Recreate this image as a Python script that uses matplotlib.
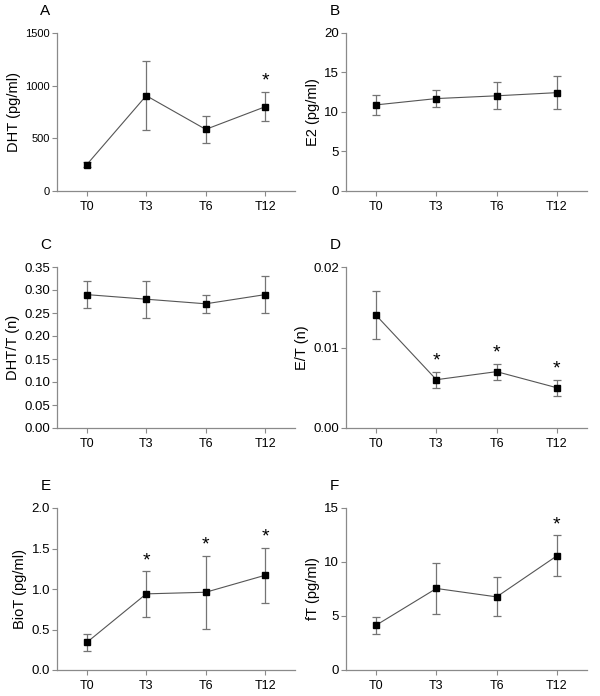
import matplotlib

matplotlib.use("Agg")
import matplotlib.pyplot as plt
from matplotlib.ticker import FormatStrFormatter

plt.rcParams["font.family"] = ["Liberation Sans", "DejaVu Sans"]

timepoints = ["T0", "T3", "T6", "T12"]

dht_mean = [250, 905, 585, 800]
dht_err = [25, 325, 125, 140]
dht_star = [False, False, False, True]

e2_mean = [10.9, 11.7, 12.05, 12.45]
e2_err = [1.25, 1.1, 1.7, 2.1]
e2_star = [False, False, False, False]

dht_t_mean = [0.29, 0.28, 0.27, 0.29]
dht_t_err = [0.03, 0.04, 0.02, 0.04]
dht_t_star = [False, False, False, False]

e_t_mean = [0.014, 0.006, 0.007, 0.005]
e_t_err = [0.003, 0.001, 0.001, 0.001]
e_t_star = [False, True, True, True]

biot_mean = [0.34, 0.94, 0.96, 1.17]
biot_err = [0.10, 0.28, 0.45, 0.34]
biot_star = [False, True, True, True]

ft_mean = [4.15, 7.55, 6.77, 10.57]
ft_err = [0.8, 2.33, 1.8, 1.89]
ft_star = [False, False, False, True]

# letter, y label, means, errors, significance, y ticks, tick format, tick font size
panels = [
    ("A", "DHT (pg/ml)", dht_mean, dht_err, dht_star, [0, 500, 1000, 1500], "%d", 8),
    ("B", "E2 (pg/ml)", e2_mean, e2_err, e2_star, [0, 5, 10, 15, 20], "%d", 9.5),
    ("C", "DHT/T (n)", dht_t_mean, dht_t_err, dht_t_star,
     [0, 0.05, 0.10, 0.15, 0.20, 0.25, 0.30, 0.35], "%.2f", 9.5),
    ("D", "E/T (n)", e_t_mean, e_t_err, e_t_star, [0, 0.01, 0.02], "%.2f", 9.5),
    ("E", "BioT (pg/ml)", biot_mean, biot_err, biot_star, [0, 0.5, 1.0, 1.5, 2.0], "%.1f", 9.5),
    ("F", "fT (pg/ml)", ft_mean, ft_err, ft_star, [0, 5, 10, 15], "%d", 9.5),
]

W, H = 600, 696
cols = [(57, 295), (346, 587)]          # axes left/right in px
rows = [(33, 191), (267, 428), (508, 670)]  # axes top/bottom in px

AXIS_GREY = "#8a8a8a"

fig = plt.figure(figsize=(W / 100, H / 100), dpi=100)

for i, (letter, ylabel, mean, err, star, yticks, fmt, ysize) in enumerate(panels):
    x0, x1 = cols[i % 2]
    top, bot = rows[i // 2]
    ax = fig.add_axes([x0 / W, 1 - bot / H, (x1 - x0) / W, (bot - top) / H])
    x = list(range(len(timepoints)))

    ax.errorbar(x, mean, yerr=err, fmt="none", ecolor="#747474", elinewidth=0.9,
                capsize=3, capthick=0.9, zorder=2)
    ax.plot(x, mean, color="#555555", lw=0.8, marker="s", markersize=5,
            markerfacecolor="black", markeredgecolor="black", zorder=3)

    for xi, m, e, s in zip(x, mean, err, star):
        if s:
            ax.annotate("*", xy=(xi, m + e), xytext=(0, 1.5), textcoords="offset points",
                        ha="center", va="bottom", fontsize=14)

    ax.set_xlim(-0.5, 3.5)
    ax.set_ylim(yticks[0], yticks[-1])
    ax.set_xticks(x)
    ax.set_xticklabels(timepoints, fontsize=9)
    ax.set_yticks(yticks)
    ax.yaxis.set_major_formatter(FormatStrFormatter(fmt))
    ax.tick_params(axis="y", labelsize=ysize, pad=1.5)
    ax.tick_params(axis="x", pad=4)
    ax.tick_params(color=AXIS_GREY, length=3.5, width=0.8, direction="out")
    ax.set_ylabel(ylabel, fontsize=10.5, labelpad=3)

    for side in ("top", "right"):
        ax.spines[side].set_visible(False)
    for side in ("left", "bottom"):
        ax.spines[side].set_color(AXIS_GREY)
        ax.spines[side].set_linewidth(0.9)

    ax.annotate(letter, xy=(0, 1), xycoords="axes fraction", xytext=(-12, 11),
                textcoords="offset points", ha="left", va="bottom", fontsize=11)

fig.savefig("out.png", dpi=100)
